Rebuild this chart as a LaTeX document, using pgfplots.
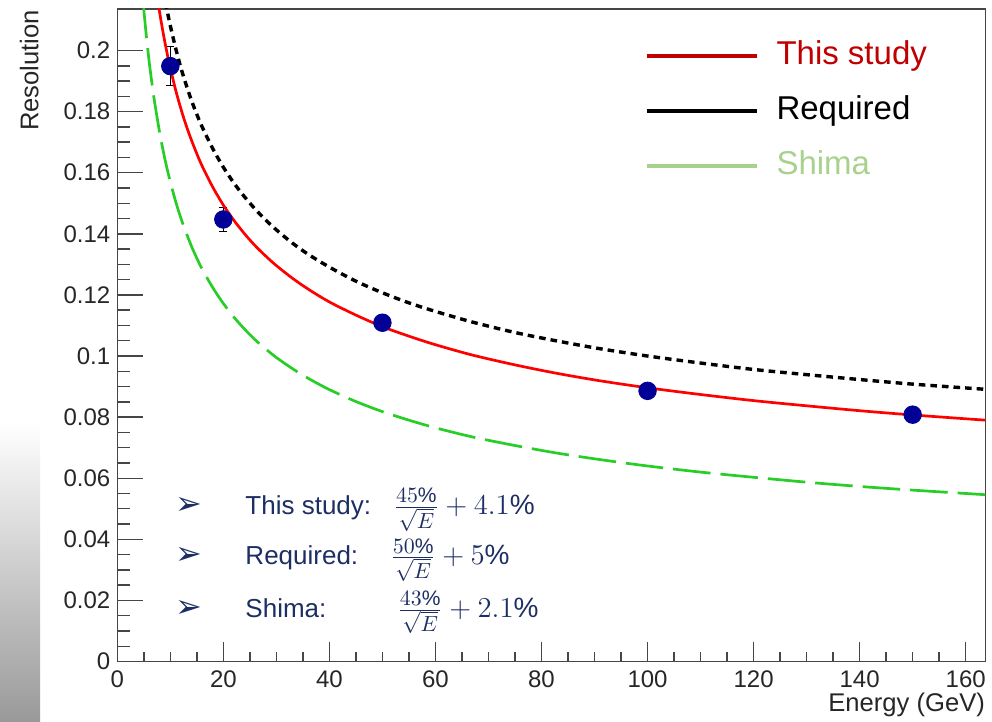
\documentclass[border=0pt]{standalone}
\usepackage{pgfplots}
\pgfplotsset{compat=1.18}
\usepackage{fontspec}
\setmainfont{Liberation Sans}
\newfontfamily\dejavu{DejaVu Sans}
\definecolor{navy}{RGB}{0,0,150}
\definecolor{txtnavy}{RGB}{28,46,100}
\definecolor{legred}{RGB}{192,0,0}
\definecolor{leggreen}{RGB}{169,209,142}
\definecolor{curvegreen}{RGB}{40,205,40}
\definecolor{axisgray}{RGB}{70,70,70}
\newcommand{\fr}[2]{\frac{\hbox{\fontsize{10.5}{12}\selectfont$#1$}}{\hbox{\fontsize{10.5}{12}\selectfont$#2$}}}
\begin{document}
\begin{tikzpicture}
\shade[top color=white, bottom color=black!40] (0pt,0pt) rectangle (20pt,150pt);
\begin{axis}[
  name=ax,
  at={(58.65pt,30.25pt)}, anchor=south west,
  scale only axis, width=434pt, height=326.25pt,
  xmin=0, xmax=163.7, ymin=0, ymax=0.2136,
  axis line style={axisgray, line width=0.8pt},
  tick align=inside,
  xtick={0,20,40,60,80,100,120,140,160},
  xticklabels={0,20,40,60,80,100,120,140,160},
  ytick={0,0.02,0.04,0.06,0.08,0.1,0.12,0.14,0.16,0.18,0.2},
  yticklabels={0,0.02,0.04,0.06,0.08,0.1,0.12,0.14,0.16,0.18,0.2},
  minor x tick num=3, minor y tick num=3,
  xtick pos=left, ytick pos=left,
  tick style={axisgray, line width=0.7pt},
  major tick length=13pt, minor tick length=6.5pt,
  every major x tick/.append style={/pgfplots/major tick length=9.5pt},
  every minor x tick/.append style={/pgfplots/minor tick length=4.5pt},
  ticklabel style={font=\fontsize{12}{14}\selectfont, text=black!85},
  xticklabel style={yshift=-1pt},
  legend image code/.code={\draw (0pt,0pt) -- (55pt,0pt);},
  legend cell align=left,
  legend style={draw=none, fill=none, at={(0.600,0.9586)}, anchor=north west,
    font=\fontsize{16.5}{20}\selectfont, row sep=11.5pt, column sep=9pt,
    nodes={inner sep=0pt, text height=12pt, text depth=4pt}},
]
\addlegendimage{legred, line width=2pt}
\addlegendentry{\textcolor{legred}{This study}}
\addlegendimage{black, line width=2pt}
\addlegendentry{\textcolor{black}{Required}}
\addlegendimage{leggreen, line width=2pt}
\addlegendentry{\textcolor{leggreen}{Shima}}

% measured points
\addplot[forget plot, only marks, mark=*, mark size=4.4pt, navy,
  error bars/.cd, y dir=both, y explicit,
  error bar style={black, line width=0.7pt},
  error mark=|,
  error mark options={black, mark size=2pt, line width=0.7pt}]
  coordinates {
  (10,0.1949) +- (0,0.0064)
  (20,0.1447) +- (0,0.0040)
  (50,0.1109) +- (0,0.0020)
  (100,0.0886) +- (0,0.0015)
  (150,0.0808) +- (0,0.0015)
  };

% Shima (green dashed)
\addplot[forget plot, curvegreen, line width=1.35pt, dash pattern=on 18.8pt off 5pt, smooth]
  coordinates {
  (4.85,0.2163) (5,0.2133) (5.5,0.2044) (6,0.1965) (6.5,0.1897) (7,0.1835)
  (8,0.1730) (8.5,0.1685) (9,0.1643) (9.5,0.1605) (10,0.1570) (11,0.1506)
  (12,0.1451) (13,0.1403) (14,0.1359) (15,0.1320) (16,0.1285) (18,0.1224)
  (20,0.1172) (22,0.1127) (24,0.1088) (26,0.1053) (28,0.1023) (30,0.0995)
  (33,0.0959) (36,0.0927) (40,0.0890) (45,0.0851) (50,0.0818) (55,0.0790)
  (60,0.0765) (67,0.0735) (75,0.0707) (83,0.0682) (91,0.0661) (100,0.0640)
  (110,0.0620) (120,0.0603) (130,0.0587) (140,0.0573) (150,0.0561) (163.7,0.0546)
  };

% Required (black dotted)
\addplot[forget plot, black, line width=1.7pt, dash pattern=on 3.3pt off 2.5pt, smooth]
  coordinates {
  (9.1,0.2158) (9.5,0.2122) (10,0.2081) (11,0.2008) (12,0.1943) (13,0.1887)
  (14,0.1836) (15,0.1791) (16,0.1750) (18,0.1679) (20,0.1618) (22,0.1566)
  (24,0.1521) (26,0.1481) (28,0.1445) (30,0.1413) (33,0.1370) (36,0.1333)
  (40,0.1291) (45,0.1245) (50,0.1207) (55,0.1174) (60,0.1146) (67,0.1111)
  (75,0.1077) (83,0.1049) (91,0.1024) (100,0.1000) (110,0.0977) (120,0.0956)
  (130,0.0939) (140,0.0923) (150,0.0908) (163.7,0.0891)
  };

% This study (red)
\addplot[forget plot, red, line width=1.35pt, smooth]
  coordinates {
  (7.6,0.2168) (8,0.2123) (8.5,0.2072) (9,0.2025) (9.5,0.1982) (10,0.1943)
  (11,0.1871) (12,0.1809) (13,0.1754) (14,0.1706) (15,0.1662) (16,0.1622)
  (18,0.1553) (20,0.1494) (22,0.1444) (24,0.1400) (26,0.1361) (28,0.1327)
  (30,0.1296) (33,0.1255) (36,0.1219) (40,0.1177) (45,0.1134) (50,0.1096)
  (55,0.1065) (60,0.1037) (67,0.1003) (75,0.0971) (83,0.0943) (91,0.0919)
  (100,0.0896) (110,0.0874) (120,0.0854) (130,0.0837) (140,0.0821) (150,0.0807)
  (163.7,0.0790)
  };

% annotation
\begin{scope}[every node/.style={text=txtnavy, inner sep=0pt}]
\node[anchor=base west, font=\dejavu\fontsize{16}{18}\selectfont] at (axis cs:10.9,0.0482) {➢};
\node[anchor=base west, font=\dejavu\fontsize{16}{18}\selectfont] at (axis cs:10.9,0.0318) {➢};
\node[anchor=base west, font=\dejavu\fontsize{16}{18}\selectfont] at (axis cs:10.9,0.0145) {➢};
\node[anchor=base west, font=\fontsize{13}{15}\selectfont] at (axis cs:24.1,0.0482) {This study:};
\node[anchor=base west, font=\fontsize{13}{15}\selectfont] at (axis cs:24.1,0.0318) {Required:};
\node[anchor=base west, font=\fontsize{13}{15}\selectfont] at (axis cs:24.1,0.0145) {Shima:};
\node[anchor=base west, font=\fontsize{14}{16}\selectfont] at (axis cs:52.05,0.0482) {$\fr{45\%}{\sqrt{E}}+4.1\%$};
\node[anchor=base west, font=\fontsize{14}{16}\selectfont] at (axis cs:51.45,0.0318) {$\fr{50\%}{\sqrt{E}}+5\%$};
\node[anchor=base west, font=\fontsize{14}{16}\selectfont] at (axis cs:52.77,0.0145) {$\fr{43\%}{\sqrt{E}}+2.1\%$};
\end{scope}
\end{axis}
\node[rotate=90, anchor=base east, inner sep=0pt, font=\fontsize{12.8}{15}\selectfont, text=black!85]
  at ([shift={(-39.5pt,326pt)}]ax.south west) {Resolution};
\node[anchor=base east, inner sep=0pt, font=\fontsize{12.8}{15}\selectfont, text=black!85]
  at ([yshift=-25.25pt]ax.south east) {Energy (GeV)};
\pgfresetboundingbox
\useasboundingbox (0pt,0pt) rectangle (496pt,361pt);
\end{tikzpicture}
\end{document}
